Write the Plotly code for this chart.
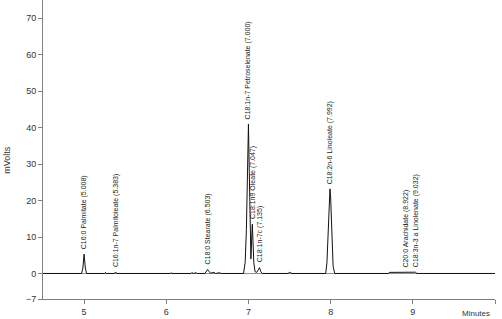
import plotly.graph_objects as go

# Chromatogram trace (minutes, mVolts)
time_min = [4.50, 4.97, 4.985, 5.000, 5.015, 5.03, 5.25, 5.26, 5.27, 5.37, 5.383, 5.395,
            6.05, 6.06, 6.07, 6.30, 6.31, 6.33, 6.36, 6.38, 6.47, 6.49, 6.503, 6.52, 6.54,
            6.58, 6.60, 6.65, 6.67, 6.94, 6.96, 6.975, 6.99, 7.000, 7.01, 7.022, 7.03,
            7.040, 7.047, 7.055, 7.065, 7.08, 7.10, 7.12, 7.135, 7.15, 7.17, 7.48, 7.50,
            7.53, 7.94, 7.955, 7.97, 7.985, 7.992, 8.00, 8.015, 8.03, 8.05, 8.70, 8.72,
            8.922, 8.94, 9.032, 9.05, 9.30, 9.32, 9.34, 9.60, 9.62, 9.64, 9.80, 9.82,
            9.84, 10.0]
mvolts = [0, 0, 1.5, 5.3, 1.5, 0, 0, 0.3, 0, 0, 0.4, 0,
          0, 0.2, 0, 0, 0.25, 0, 0.2, 0, 0, 0.6, 1.1, 0.5, 0.1,
          0.3, 0, 0.2, 0, 0, 3, 12, 32, 41, 28, 8, 4,
          10, 13.5, 9, 3, 0.5, 0.3, 1.0, 1.6, 0.5, 0, 0, 0.3,
          0, 0, 3, 13, 22, 23.2, 21, 10, 2, 0, 0, 0.3,
          0.35, 0.3, 0.35, 0, 0, 0.15, 0, 0, 0.15, 0, 0, 0.15,
          0, 0]

# Peak annotations
peak_times = [5.000, 5.383, 6.503, 7.000, 7.047, 7.135, 7.992, 8.922, 9.032]
peak_heights = [5.3, 0.4, 1.1, 41, 13.5, 1.6, 23.2, 0.35, 0.35]
peak_labels = ["C16:0 Palmitate (5.008)", "C16:1n-7 Palmitoleate (5.383)",
               "C18:0 Stearate (6.503)", "C18:1n-7 Petroselenate (7.000)",
               "C18:1n9 Oleate (7.047)", "C18:1n-7c (7.135)",
               "C18:2n-6 Linoleate (7.992)", "C20:0 Arachidate (8.922)",
               "C18:3n-3 a Linolenate (9.032)"]

x_ticks = [5, 6, 7, 8, 9, 10]
x_ticktext = ["5", "6", "7", "8", "9", ""]
y_ticks = [-7, 0, 10, 20, 30, 40, 50, 60, 70]

fig = go.Figure()
fig.add_trace(go.Scatter(x=time_min, y=mvolts, mode="lines",
                         line=dict(color="#111111", width=1), showlegend=False,
                         hoverinfo="skip"))

font_family = "Liberation Sans, Arial, sans-serif"
for t, h, lab in zip(peak_times, peak_heights, peak_labels):
    fig.add_annotation(x=t, y=h, text=lab, textangle=-90, showarrow=False,
                       xanchor="center", yanchor="bottom", yshift=3,
                       font=dict(size=7, color="#222222", family=font_family))

fig.add_annotation(xref="paper", yref="paper", x=-0.08, y=0.465, text="mVolts",
                   textangle=-90, showarrow=False, xanchor="center", yanchor="middle",
                   font=dict(size=9, color="#333333", family=font_family))
fig.add_annotation(xref="paper", yref="paper", x=0.958, y=-0.047, text="Minutes",
                   showarrow=False, xanchor="center", yanchor="middle",
                   font=dict(size=8, color="#333333", family=font_family))

fig.update_layout(
    width=502, height=319,
    margin=dict(l=43, r=7, t=0, b=20),
    paper_bgcolor="white", plot_bgcolor="white",
    font=dict(family=font_family, size=9, color="#333333"),
    xaxis=dict(range=[4.5, 10], tickvals=x_ticks, ticktext=x_ticktext,
               showline=True, linecolor="#808080", linewidth=1,
               ticks="outside", ticklen=4, tickcolor="#808080",
               showgrid=False, zeroline=False),
    yaxis=dict(range=[-7, 75], tickvals=y_ticks,
               showline=True, linecolor="#808080", linewidth=1,
               ticks="outside", ticklen=4, tickcolor="#808080",
               showgrid=False, zeroline=True, zerolinecolor="#909090",
               zerolinewidth=1),
)

fig.write_html("out.html")
